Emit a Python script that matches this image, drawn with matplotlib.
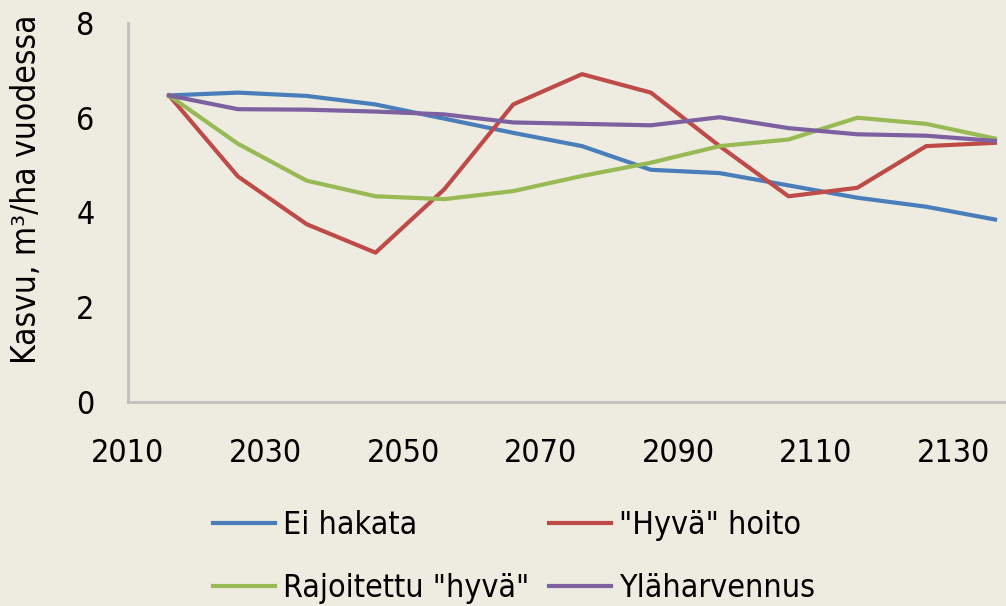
import matplotlib
matplotlib.use('Agg')
import matplotlib.pyplot as plt

# vuodet ja kasvu (m3/ha vuodessa)
years = [2016, 2026, 2036, 2046, 2056, 2066, 2076, 2086, 2096, 2106, 2116, 2126, 2136]
ei_hakata = [6.47, 6.53, 6.46, 6.28, 5.98, 5.68, 5.40, 4.90, 4.83, 4.57, 4.31, 4.12, 3.85]
hyva_hoito = [6.47, 4.76, 3.75, 3.15, 4.49, 6.28, 6.92, 6.53, 5.40, 4.34, 4.52, 5.40, 5.47]
rajoitettu = [6.47, 5.45, 4.67, 4.34, 4.28, 4.45, 4.77, 5.05, 5.40, 5.54, 6.00, 5.87, 5.56]
ylaharvennus = [6.47, 6.18, 6.17, 6.13, 6.07, 5.90, 5.87, 5.84, 6.01, 5.78, 5.65, 5.62, 5.51]

x_ticks = [2010, 2030, 2050, 2070, 2090, 2110, 2130]
y_ticks = [0, 2, 4, 6, 8]

bg = '#EEECE1'
plt.rcParams['font.family'] = ['DejaVu Sans']
plt.rcParams['font.stretch'] = 'condensed'

fig = plt.figure(figsize=(10.06, 6.06), dpi=100, facecolor=bg)
ax = fig.add_axes([0.127, 0.337, 0.873, 0.625], facecolor=bg)

lw = 3.0
l1, = ax.plot(years, ei_hakata, color='#4A7EBB', lw=lw, label='Ei hakata')
l2, = ax.plot(years, hyva_hoito, color='#BE4B48', lw=lw, label='"Hyvä" hoito')
l3, = ax.plot(years, rajoitettu, color='#98B954', lw=lw, label='Rajoitettu "hyvä"')
l4, = ax.plot(years, ylaharvennus, color='#7D60A0', lw=lw, label='Yläharvennus')

ax.set_xlim(2010, 2137.6)
ax.set_ylim(0, 8)
ax.set_xticks(x_ticks)
ax.set_yticks(y_ticks)
ax.tick_params(length=0, labelsize=23)
ax.tick_params(axis='x', pad=26)
ax.tick_params(axis='y', pad=24)

for s in ['top', 'right']:
    ax.spines[s].set_visible(False)
for s in ['left', 'bottom']:
    ax.spines[s].set_color('#BFBFBF')
    ax.spines[s].set_linewidth(2)

fig.text(27 / 1006, 1 - 189 / 606, 'Kasvu, m³/ha vuodessa', rotation=90,
         ha='center', va='center', fontsize=24)

# rivit: Ei hakata / "Hyvä" hoito, Rajoitettu / Yläharvennus
fig.legend([l1, l3, l2, l4], [l1.get_label(), l3.get_label(), l2.get_label(), l4.get_label()],
           ncol=2, loc='center', bbox_to_anchor=(514 / 1006, 1 - 557 / 606),
           frameon=False, fontsize=23, handlelength=1.95, handletextpad=0.25,
           columnspacing=0.63, labelspacing=1.0)

fig.savefig('out.png', dpi=100, facecolor=bg)
